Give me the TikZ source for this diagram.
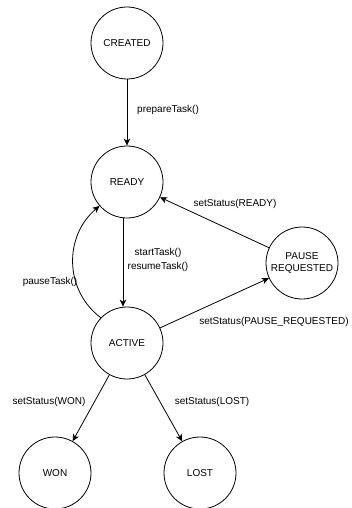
\documentclass[tikz,border=0pt]{standalone}
\usepackage{fontspec}
\setmainfont{Liberation Sans}
\usetikzlibrary{arrows.meta}
\begin{document}
\begin{tikzpicture}[x=1pt,y=-1pt,
  state/.style={draw,circle,line width=0.8pt,minimum size=72pt,inner sep=0pt,align=center,font=\fontsize{10}{11.5}\selectfont},
  lbl/.style={inner sep=0pt,align=center,font=\fontsize{10}{13.5}\selectfont},
  edge/.style={line width=0.8pt,-{Stealth[length=7pt,width=6.5pt,inset=2pt]}}]
\useasboundingbox[fill=white] (0,0) rectangle (351,508);
\node[state] (created) at (127,43) {CREATED};
\node[state] (ready) at (127,182) {READY};
\node[state] (active) at (127,343) {ACTIVE};
\node[state] (pause) at (302,263) {PAUSE\\REQUESTED};
\node[state] (won) at (55,473) {WON};
\node[state] (lost) at (200,473) {LOST};
\draw[edge] (created) -- (ready);
\draw[edge] ([xshift=-4pt]ready.south) -- ([xshift=-4pt]active.north);
\draw[edge] (active.136) .. controls (64,290) and (64,236) .. (ready.221);
\draw[edge] (pause) -- (ready);
\draw[edge] (active) -- (pause);
\draw[edge] (active) -- (won);
\draw[edge] (active) -- (lost);
\node[lbl,anchor=west] (l1) at (137,110) {prepareTask()};
\node[lbl] (l2) at (158,260) {startTask()\\resumeTask()};
\node[lbl] (l3) at (50,282) {pauseTask()};
\node[lbl] (l4) at (235,204) {setStatus(READY)};
\node[lbl] (l5) at (274,322) {setStatus(PAUSE\_REQUESTED)};
\node[lbl] (l6) at (49,402) {setStatus(WON)};
\node[lbl] (l7) at (212,402) {setStatus(LOST)};
\end{tikzpicture}
\end{document}
